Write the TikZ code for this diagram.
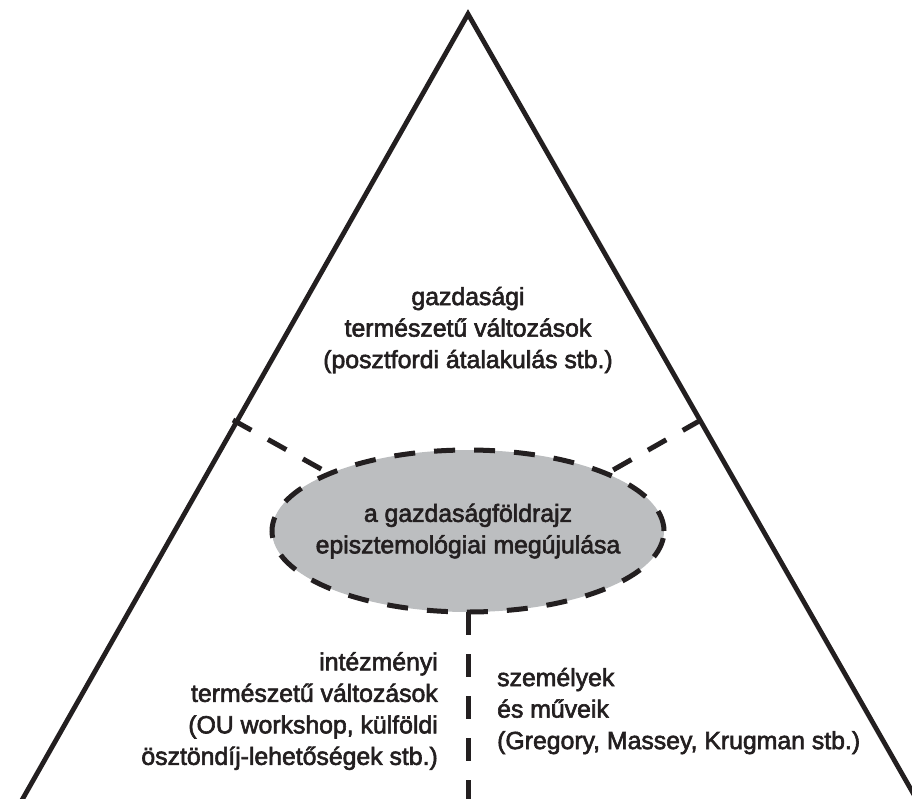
\documentclass[tikz,border=0pt]{standalone}
\usepackage{fontspec}
\setmainfont{Liberation Sans}[UprightFeatures={FakeBold=2.4}]
\usetikzlibrary{shapes.geometric}
\definecolor{ink}{HTML}{231F20}
\definecolor{ellfill}{HTML}{BCBEC0}
\tikzset{
  side/.style={draw=ink,line width=4.8pt},
  dline/.style={draw=ink,line width=5pt,dash pattern=on 21pt off 19pt},
  lbl/.style={text=ink,font=\fontsize{24.8}{31.5}\selectfont,inner sep=0pt},
}
\begin{document}
\begin{tikzpicture}[x=1pt,y=-1pt]
\useasboundingbox (0,0) rectangle (912,798);
\clip (0,0) rectangle (912,798);
\coordinate (apex) at (468,14);
\coordinate (bl) at (22,800);
\coordinate (br) at (917,800);
\draw[side,line join=miter] (bl) -- (apex) -- (br);
\node[ellipse,fill=ellfill,minimum width=392pt,minimum height=162pt,inner sep=0pt] (ell) at (468,531) {};
\draw[dline] (ell.center) ellipse[x radius=196pt,y radius=81pt];
\node[lbl,align=center] (elltext) at (468,531) {a gazdaságföldrajz\\episztemológiai megújulása};
\coordinate (ltick) at (233,420);
\coordinate (rtick) at (701,420);
\coordinate (bot) at (468,800);
\draw[dline] (ltick) -- (ell.north west);
\draw[dline] (rtick) -- (ell.north east);
\draw[dline,dash pattern=on 23pt off 19pt] (ell.south) -- (bot);
\node[lbl,align=center] (top) at (468,330) {gazdasági\\természetű változások\\(posztfordi átalakulás stb.)};
\node[lbl,align=right,anchor=east] (left) at (438,711) {intézményi\\természetű változások\\(OU workshop, külföldi\\ösztöndíj-lehetőségek stb.)};
\node[lbl,align=left,anchor=west] (right) at (497,711) {személyek\\és műveik\\(Gregory, Massey, Krugman stb.)};
\end{tikzpicture}
\end{document}
